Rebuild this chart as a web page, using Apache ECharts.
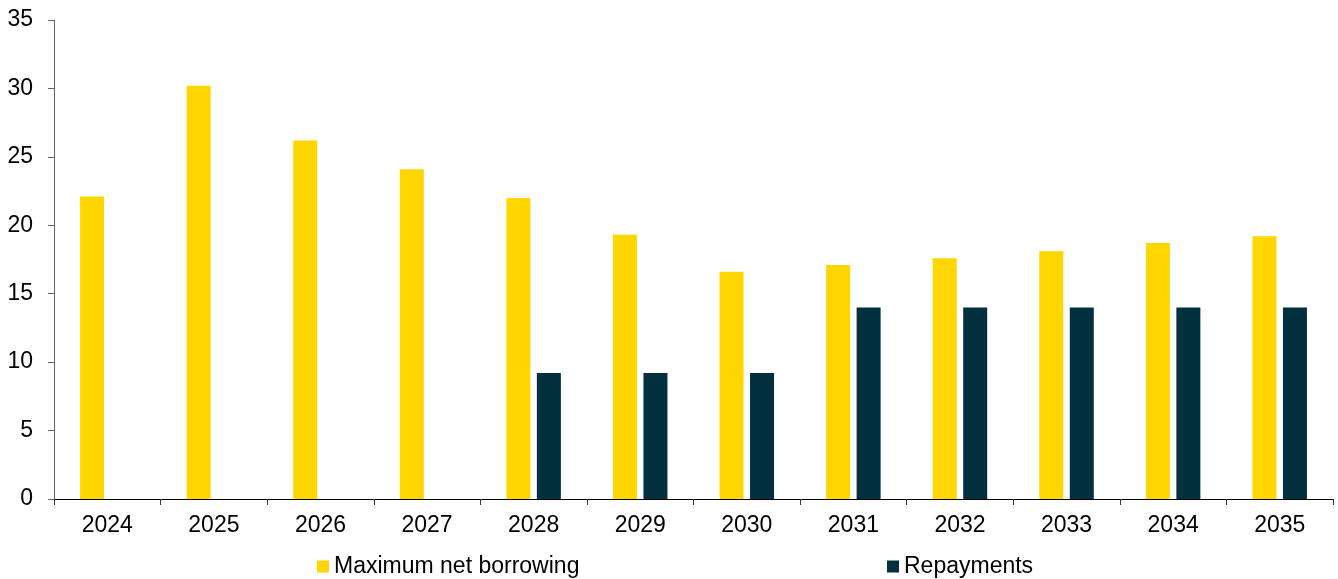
<!DOCTYPE html>
<html>
<head>
<meta charset="utf-8">
<script src="https://cdn.jsdelivr.net/npm/echarts@6/dist/echarts.min.js"></script>
<style>
  html, body { margin: 0; padding: 0; background: #fff; }
  #chart { width: 1338px; height: 579px; }
</style>
</head>
<body>
<div id="chart"></div>
<script>
  // values
  let years = ['2024', '2025', '2026', '2027', '2028', '2029', '2030', '2031', '2032', '2033', '2034', '2035'];
  let borrowing = [22.1, 30.2, 26.2, 24.1, 22.0, 19.3, 16.6, 17.1, 17.6, 18.1, 18.7, 19.2];
  let repayments = [null, null, null, null, 9.2, 9.2, 9.2, 14.0, 14.0, 14.0, 14.0, 14.0];

  let font = '"Liberation Sans", Arial, sans-serif';
  let myChart = echarts.init(document.getElementById('chart'));
  myChart.setOption({
    animation: false,
    color: ['#FFD600', '#02303F'],
    grid: {
      left: 54,
      right: 5,
      top: 20,
      bottom: 80
    },
    legend: [
      {
        data: ['Maximum net borrowing'],
        left: 317,
        top: 555,
        padding: 0,
        icon: 'rect',
        itemWidth: 12,
        itemHeight: 12,
        itemGap: 5,
        textStyle: { color: '#000', fontSize: 23, fontFamily: font }
      },
      {
        data: ['Repayments'],
        left: 887,
        top: 555,
        padding: 0,
        icon: 'rect',
        itemWidth: 12,
        itemHeight: 12,
        textStyle: { color: '#000', fontSize: 23, fontFamily: font }
      }
    ],
    xAxis: {
      type: 'category',
      data: years,
      axisLine: { lineStyle: { color: '#000', width: 1 } },
      axisTick: { show: true, length: 6, lineStyle: { color: '#333' } },
      axisLabel: { color: '#000', fontSize: 23, fontFamily: font, margin: 15 }
    },
    yAxis: {
      type: 'value',
      min: 0,
      max: 35,
      interval: 5,
      axisLine: { show: true, lineStyle: { color: '#666', width: 1 } },
      axisTick: { show: true, length: 6, lineStyle: { color: '#666' } },
      axisLabel: { color: '#000', fontSize: 23, fontFamily: font, margin: 21 },
      splitLine: { show: false }
    },
    series: [
      {
        name: 'Maximum net borrowing',
        type: 'bar',
        data: borrowing,
        barWidth: 24,
        barGap: '27%'
      },
      {
        name: 'Repayments',
        type: 'bar',
        data: repayments,
        barWidth: 24,
        barGap: '27%'
      }
    ]
  });
</script>
</body>
</html>
